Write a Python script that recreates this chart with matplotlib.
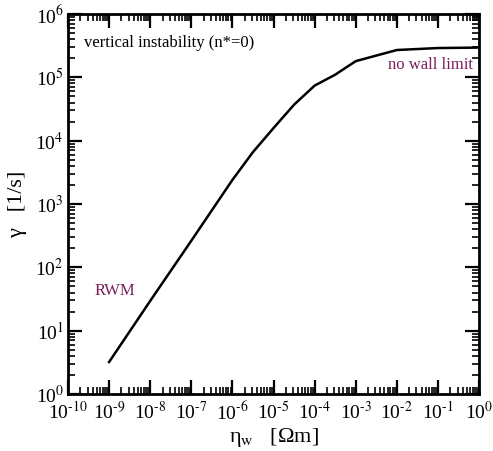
import matplotlib
matplotlib.use("Agg")
import matplotlib.pyplot as plt
from matplotlib.ticker import LogLocator, NullFormatter, FuncFormatter
import numpy as np

plt.rcParams['font.family'] = ['Liberation Serif', 'DejaVu Serif']
plt.rcParams['mathtext.fontset'] = 'stix'

# wall resistivity [Ohm m] and growth rate [1/s]
eta_w = [1e-9, 1e-8, 1e-7, 1e-6, 10**-5.5, 1e-5, 10**-4.5, 1e-4, 10**-3.5, 1e-3, 1e-2, 1e-1, 1e0]
gamma = [3.2, 29.5, 263, 2.4e3, 6.6e3, 1.58e4, 3.7e4, 7.4e4, 1.1e5, 1.8e5, 2.7e5, 2.9e5, 2.95e5]

purple = '#7a1f5c'


def pow10(v, pos):
    e = int(round(np.log10(v)))
    return r'10$^{\text{%d}}$' % e


fig = plt.figure(figsize=(4.93, 4.51), dpi=100)
ax = fig.add_axes([68 / 493, 1 - 394 / 451, 411 / 493, 380 / 451])

ax.plot(eta_w, gamma, color='black', lw=1.8)
ax.set_xscale('log')
ax.set_yscale('log')
ax.set_xlim(1e-10, 1e0)
ax.set_ylim(1e0, 1e6)

for a in (ax.xaxis, ax.yaxis):
    a.set_major_locator(LogLocator(base=10, numticks=20))
    a.set_minor_locator(LogLocator(base=10, subs=range(2, 10), numticks=20))
    a.set_major_formatter(FuncFormatter(pow10))
    a.set_minor_formatter(NullFormatter())

ax.tick_params(which='both', direction='in', top=True, right=True, labelsize=14)
ax.tick_params(which='major', length=10, width=1.6)
ax.tick_params(which='minor', length=5, width=1.2)
ax.tick_params(axis='x', pad=5)
ax.tick_params(axis='y', pad=3)
for s in ax.spines.values():
    s.set_linewidth(2)

ax.set_xlabel('η$_{\\rm w}$   [Ωm]', fontsize=16, labelpad=2)
ax.set_ylabel('γ   [1/s]', fontsize=16, labelpad=6)

ax.text(0.04, 0.925, 'vertical instability (n*=0)', transform=ax.transAxes,
        fontsize=12, ha='left', va='center')
ax.text(0.985, 0.865, 'no wall limit', transform=ax.transAxes,
        fontsize=12, color=purple, ha='right', va='center')
ax.text(0.065, 0.27, 'RWM', transform=ax.transAxes,
        fontsize=12, color=purple, ha='left', va='center')

fig.savefig('out.png', dpi=100)
